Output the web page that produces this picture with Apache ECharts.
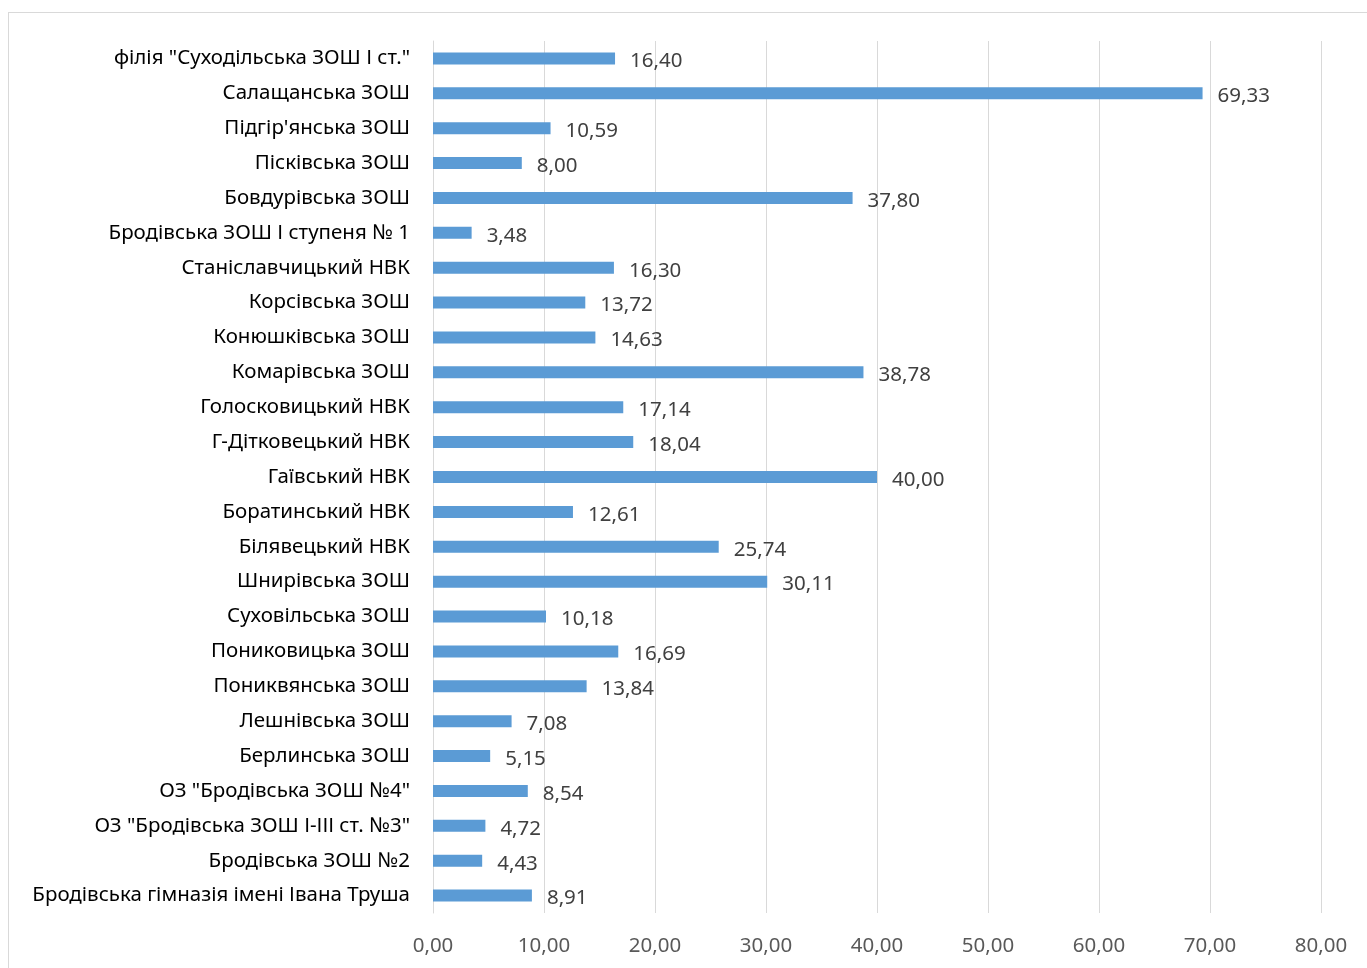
<!DOCTYPE html>
<html>
<head>
<meta charset="utf-8">
<script src="https://cdn.jsdelivr.net/npm/echarts@6/dist/echarts.min.js"></script>
<style>
html,body{margin:0;padding:0;background:#fff;}
#frame{position:absolute;left:8px;top:12px;width:1400px;height:1000px;border:1px solid #d9d9d9;box-sizing:border-box;}
#chart{position:absolute;left:0;top:0;width:1367px;height:968px;}
</style>
</head>
<body>
<div id="frame"></div>
<div id="chart"></div>
<script>
// categories listed bottom-to-top (as ECharts category axis draws them)
const categories = [
  'Бродівська гімназія імені Івана Труша',
  'Бродівська ЗОШ №2',
  'ОЗ "Бродівська ЗОШ І-ІІІ ст. №3"',
  'ОЗ "Бродівська ЗОШ №4"',
  'Берлинська ЗОШ',
  'Лешнівська ЗОШ',
  'Пониквянська ЗОШ',
  'Пониковицька ЗОШ',
  'Суховільська ЗОШ',
  'Шнирівська ЗОШ',
  'Білявецький НВК',
  'Боратинський НВК',
  'Гаївський НВК',
  'Г-Дітковецький НВК',
  'Голосковицький НВК',
  'Комарівська ЗОШ',
  'Конюшківська ЗОШ',
  'Корсівська ЗОШ',
  'Станіславчицький НВК',
  'Бродівська ЗОШ І ступеня № 1',
  'Бовдурівська ЗОШ',
  'Пісківська ЗОШ',
  "Підгір'янська ЗОШ",
  'Салащанська ЗОШ',
  'філія "Суходільська ЗОШ І ст."'
];
const values = [8.91, 4.43, 4.72, 8.54, 5.15, 7.08, 13.84, 16.69, 10.18, 30.11, 25.74, 12.61, 40.00, 18.04, 17.14, 38.78, 14.63, 13.72, 16.30, 3.48, 37.80, 8.00, 10.59, 69.33, 16.40];
const axisMin = 0, axisMax = 80, axisStep = 10;

const fmt = v => v.toFixed(2).replace('.', ',');
const FONT = 'Noto Sans';
const chart = echarts.init(document.getElementById('chart'));
chart.setOption({
  animation: false,
  grid: {left: 433, right: 46, top: 41, bottom: 55, containLabel: false},
  xAxis: {
    type: 'value', min: axisMin, max: axisMax, interval: axisStep,
    axisLine: {show: false}, axisTick: {show: false},
    splitLine: {lineStyle: {color: '#d9d9d9', width: 1}},
    axisLabel: {formatter: v => fmt(v), color: '#595959', fontSize: 20.5, fontFamily: FONT, margin: 23}
  },
  yAxis: {
    type: 'category', data: categories,
    axisLine: {show: true, lineStyle: {color: '#d9d9d9'}}, axisTick: {show: false},
    axisLabel: {color: '#000', fontSize: 20.5, fontFamily: FONT, margin: 23, padding: [2, 0, 0, 0]}
  },
  series: [{
    type: 'bar', data: values, barWidth: 12,
    itemStyle: {color: '#5b9bd5'},
    label: {show: true, position: 'right', distance: 15, formatter: p => fmt(p.value),
      color: '#404040', fontSize: 20.5, fontFamily: FONT, offset: [0, 3]}
  }]
});
</script>
</body>
</html>
